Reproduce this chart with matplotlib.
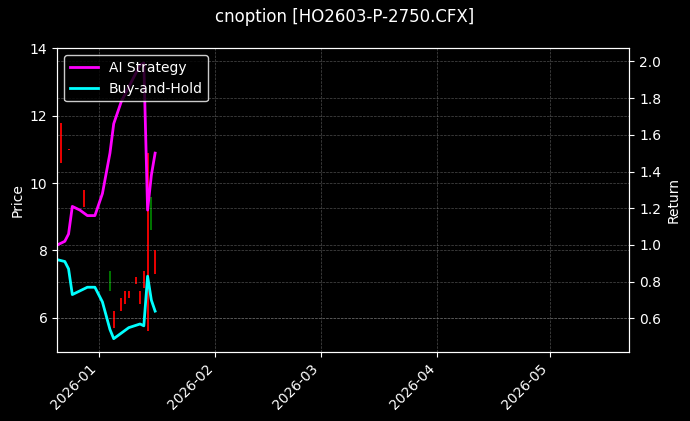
import matplotlib
matplotlib.use("Agg")
import matplotlib.pyplot as plt
import matplotlib.dates as mdates
import matplotlib.ticker as mticker
import pandas as pd

c_dates = ["2025-12-22","2025-12-24","2025-12-28","2026-01-04","2026-01-05","2026-01-07","2026-01-08","2026-01-09","2026-01-11","2026-01-12","2026-01-13","2026-01-14","2026-01-15","2026-01-16"]
c_open  = [11.8, 11.02, 9.8, 6.8, 6.2, 6.6, 6.8, 6.8, 7.2, 6.8, 7.4, 10.9, 8.6, 8.0]
c_close = [10.6, 10.98, 9.3, 7.4, 5.7, 6.2, 6.4, 6.6, 7.0, 6.4, 6.9, 5.6, 9.6, 7.3]

l_dates = ["2025-12-21","2025-12-23","2025-12-24","2025-12-25","2025-12-27","2025-12-29","2025-12-31","2026-01-02","2026-01-04","2026-01-05","2026-01-07","2026-01-09","2026-01-12","2026-01-13","2026-01-14","2026-01-15","2026-01-16"]
ai  = [1.00, 1.02, 1.06, 1.21, 1.19, 1.16, 1.16, 1.28, 1.50, 1.66, 1.78, 1.86, 1.98, 1.99, 1.19, 1.38, 1.50]
bh  = [0.92, 0.91, 0.87, 0.73, 0.75, 0.77, 0.77, 0.69, 0.54, 0.49, 0.52, 0.55, 0.57, 0.56, 0.83, 0.70, 0.64]

plt.rcParams['font.family'] = ['DejaVu Sans']
fig, ax = plt.subplots(figsize=(6.9, 4.21), dpi=100, facecolor='black')
ax.set_facecolor('black')
cd = pd.to_datetime(c_dates)
for d, o, c in zip(cd, c_open, c_close):
    col = 'green' if c >= o else 'red'
    ax.vlines(d, min(o, c), max(o, c), color=col, linewidth=1.3)
ax.set_ylim(5, 14)
ax.yaxis.set_major_locator(mticker.MultipleLocator(2))
ax.set_ylabel("Price", color='white')
ax.grid(True, color='gray', linestyle='--', linewidth=0.5, alpha=0.6)

ax2 = ax.twinx()
ld = pd.to_datetime(l_dates)
ax2.plot(ld, ai, color='magenta', linewidth=2, label='AI Strategy')
ax2.plot(ld, bh, color='cyan', linewidth=2, label='Buy-and-Hold')
ax2.set_ylim(0.42, 2.07)
ax2.set_ylabel("Return", color='white')
ax2.grid(True, color='gray', linestyle='--', linewidth=0.5, alpha=0.6)
ax.set_xlim(pd.Timestamp("2025-12-21"), pd.Timestamp("2026-05-22"))
ax.xaxis.set_major_locator(mdates.MonthLocator())
ax.xaxis.set_major_formatter(mdates.DateFormatter('%Y-%m'))
for a in (ax, ax2):
    a.tick_params(colors='white')
    for s in a.spines.values():
        s.set_color('white')
plt.setp(ax.get_xticklabels(), rotation=45, ha='right')
leg = ax2.legend(loc='upper left', facecolor='black', edgecolor='white', labelcolor='white')
fig.suptitle("cnoption [HO2603-P-2750.CFX]", color='white')
fig.subplots_adjust(left=0.083, right=0.912, top=0.885, bottom=0.165)
fig.savefig("out.png", facecolor='black')
